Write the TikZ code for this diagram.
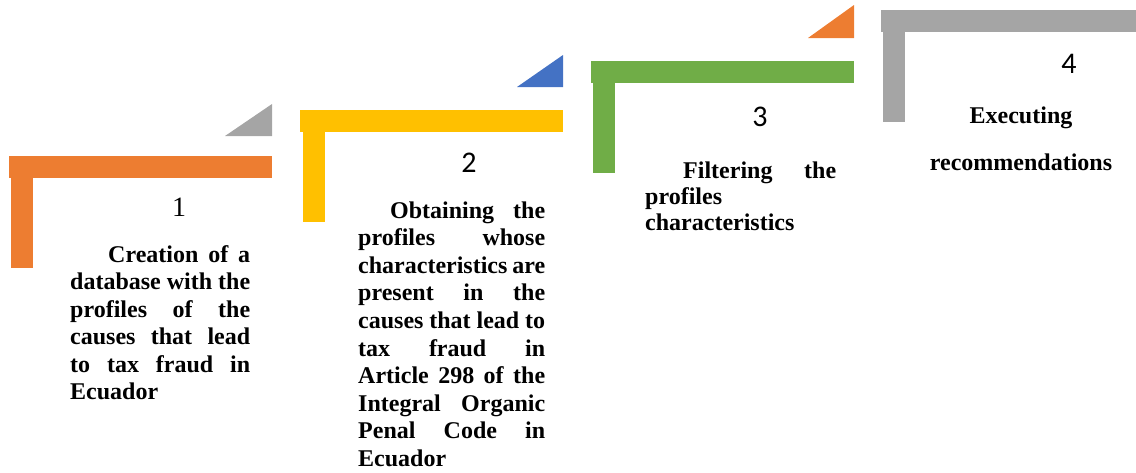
\documentclass[tikz,border=0pt]{standalone}
\usepackage{fontspec}
\setmainfont{Liberation Serif}
\newfontfamily\numsans{Carlito}
\definecolor{cOrange}{HTML}{ED7D31}
\definecolor{cGray}{HTML}{A5A5A5}
\definecolor{cYellow}{HTML}{FFC000}
\definecolor{cBlue}{HTML}{4472C4}
\definecolor{cGreen}{HTML}{70AD47}
\newcommand{\jline}[2]{\makebox[#1][s]{#2}}
\tikzset{
  bodytext/.style={inner sep=0pt, anchor=base west, align=left,
    font=\bfseries\fontsize{24}{27.5}\selectfont},
  numserif/.style={inner sep=0pt, anchor=base, font=\fontsize{28}{30}\selectfont},
  numsans/.style={inner sep=0pt, anchor=base, font=\numsans\fontsize{30}{32}\selectfont},
}
\begin{document}
\begin{tikzpicture}[x=1pt,y=-1pt]
\useasboundingbox (0,0) rectangle (1136,472);
\clip (0,0) rectangle (1136,472);
% step 1
\fill[cOrange] (9,156) rectangle (272,178);
\fill[cOrange] (11,178) rectangle (33,268);
\fill[cGray] (225,136) -- (272,104) -- (272,136) -- cycle;
% step 2
\fill[cYellow] (300,110) rectangle (563,132);
\fill[cYellow] (303,132) rectangle (325,222);
\fill[cBlue] (517,87) -- (563,55) -- (563,87) -- cycle;
% step 3
\fill[cGreen] (591,61) rectangle (854,83);
\fill[cGreen] (593,83) rectangle (615,173);
\fill[cOrange] (808,38) -- (854,5) -- (854,38) -- cycle;
% step 4
\fill[cGray] (881,10) rectangle (1140,32);
\fill[cGray] (883,32) rectangle (905,122);

% numbers
\node[numserif] (n1) at (179,216) {1};
\node[numsans] (n2) at (469,172) {2};
\node[numsans] (n3) at (760,126) {3};
\node[numsans] (n4) at (1069,73) {4};

% texts (base anchor = baseline of last line)
\node[bodytext] (t1) at (70,399.5) {%
\jline{180pt}{\hspace*{38pt}Creation of a}\\
\jline{180pt}{database with the}\\
\jline{180pt}{profiles of the}\\
\jline{180pt}{causes that lead}\\
\jline{180pt}{to tax fraud in}\\
Ecuador};

\node[bodytext, font=\bfseries\fontsize{24}{27.6}\selectfont] (t2) at (358,466.4) {%
\jline{187pt}{\hspace*{32pt}Obtaining the}\\
\jline{187pt}{profiles whose}\\
\jline{187pt}{characteristics are}\\
\jline{187pt}{present in the}\\
\jline{187pt}{causes that lead to}\\
\jline{187pt}{tax fraud in}\\
\jline{187pt}{Article 298 of the}\\
\jline{187pt}{Integral Organic}\\
\jline{187pt}{Penal Code in}\\
Ecuador};

\node[bodytext, font=\bfseries\fontsize{24}{26}\selectfont] (t3) at (645,230) {%
\jline{191pt}{\hspace*{38pt}Filtering the}\\
profiles\\
characteristics};

\node[bodytext, anchor=base, align=center, font=\bfseries\fontsize{24}{47}\selectfont] (t4) at (1021,170) {%
Executing\\
recommendations};
\end{tikzpicture}
\end{document}
